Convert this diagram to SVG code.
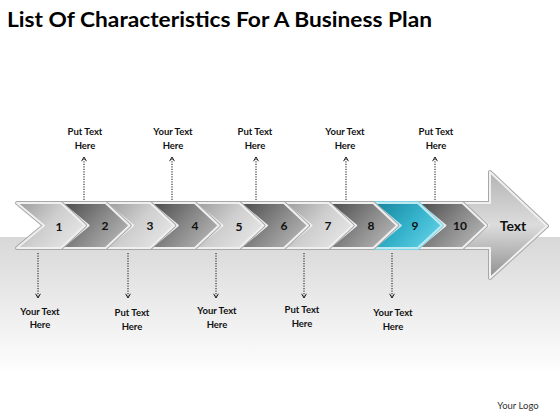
<svg xmlns="http://www.w3.org/2000/svg" width="560" height="420" viewBox="0 0 560 420">
<defs>
<linearGradient id="bg" x1="0" y1="0" x2="0" y2="1">
<stop offset="0" stop-color="#d8d8d8"/>
<stop offset="0.75" stop-color="#ffffff"/>
</linearGradient>
<linearGradient id="gLight" x1="0" y1="0" x2="1" y2="0.6">
<stop offset="0" stop-color="#9c9c9c"/>
<stop offset="0.55" stop-color="#cfcfcf"/>
<stop offset="1" stop-color="#e4e4e4"/>
</linearGradient>
<linearGradient id="gDark" x1="0" y1="0" x2="1" y2="0.6">
<stop offset="0" stop-color="#4a4a4a"/>
<stop offset="0.6" stop-color="#8a8a8a"/>
<stop offset="1" stop-color="#b0b0b0"/>
</linearGradient>
<linearGradient id="gTeal" x1="0" y1="0" x2="1" y2="0.6">
<stop offset="0" stop-color="#17839c"/>
<stop offset="0.6" stop-color="#36b3cc"/>
<stop offset="1" stop-color="#5ccde2"/>
</linearGradient>
<linearGradient id="gBig" x1="0" y1="0" x2="0" y2="1">
<stop offset="0" stop-color="#b4b4b4"/>
<stop offset="0.5" stop-color="#dcdcdc"/>
<stop offset="1" stop-color="#909090"/>
</linearGradient>
<marker id="ah" viewBox="0 0 10 10" refX="9" refY="5" markerWidth="6" markerHeight="6" markerUnits="userSpaceOnUse" orient="auto">
<path d="M2,1 L9,5 L2,9" fill="none" stroke="#111" stroke-width="1.6"/>
</marker>
<polygon id="chev" points="0,0 44,0 68,22.5 44,45 0,45 27,22.5"/>
</defs>
<style>
.title{font-family:"Lato","Liberation Sans",sans-serif;font-weight:bold;font-size:21px;fill:#000}
.lbl{font-family:"Lato","Liberation Sans",sans-serif;font-weight:bold;font-size:9.5px;fill:#111;text-anchor:middle}
.num{font-family:"Lato","Liberation Sans",sans-serif;font-weight:bold;font-size:12px;fill:#111;text-anchor:middle}
.big{font-family:"Lato","Liberation Sans",sans-serif;font-weight:bold;font-size:14px;fill:#111;text-anchor:middle}
.logo{font-family:"Lato","Liberation Sans",sans-serif;font-size:9.5px;fill:#333;text-anchor:middle}
.edge{stroke:#a8a8a8;stroke-width:4;stroke-linejoin:round}
.bevel{stroke:#f0f0f0;stroke-width:2;stroke-linejoin:round}
.conn{fill:none;stroke:#111;stroke-width:1;stroke-dasharray:1.2 1.3;marker-end:url(#ah)}
</style>
<rect x="0" y="0" width="560" height="420" fill="#ffffff"/>
<rect x="0" y="237" width="560" height="183" fill="url(#bg)"/>
<text class="title" x="7" y="27" textLength="425" lengthAdjust="spacingAndGlyphs">List Of Characteristics For A Business Plan</text>

<g id="node-text">
<polygon class="edge" points="462,203 490,203 490,172 547,226 490,278 490,248 462,248 489,225.5" fill="#b0b0b0"/>
<polygon class="bevel" points="462,203 490,203 490,172 547,226 490,278 490,248 462,248 489,225.5" fill="url(#gBig)"/>
<text class="big" x="513" y="231">Text</text>
</g>
<g id="node-10"><use href="#chev" x="418.4" y="203" class="edge" fill="#999"/><use href="#chev" x="418.4" y="203" class="bevel" fill="url(#gDark)"/><text class="num" x="460" y="230">10</text></g>
<g id="node-9"><use href="#chev" x="373.8" y="203" class="edge" fill="#2a9ab2" style="stroke:#7fd3e3"/><use href="#chev" x="373.8" y="203" class="bevel" fill="url(#gTeal)" style="stroke:#bfeaf2"/><text class="num" x="415" y="230">9</text></g>
<g id="node-8"><use href="#chev" x="329.2" y="203" class="edge" fill="#999"/><use href="#chev" x="329.2" y="203" class="bevel" fill="url(#gDark)"/><text class="num" x="371" y="230">8</text></g>
<g id="node-7"><use href="#chev" x="284.6" y="203" class="edge" fill="#bbb"/><use href="#chev" x="284.6" y="203" class="bevel" fill="url(#gLight)"/><text class="num" x="328" y="230">7</text></g>
<g id="node-6"><use href="#chev" x="240" y="203" class="edge" fill="#999"/><use href="#chev" x="240" y="203" class="bevel" fill="url(#gDark)"/><text class="num" x="284" y="230">6</text></g>
<g id="node-5"><use href="#chev" x="195.4" y="203" class="edge" fill="#bbb"/><use href="#chev" x="195.4" y="203" class="bevel" fill="url(#gLight)"/><text class="num" x="239" y="231">5</text></g>
<g id="node-4"><use href="#chev" x="150.8" y="203" class="edge" fill="#999"/><use href="#chev" x="150.8" y="203" class="bevel" fill="url(#gDark)"/><text class="num" x="195" y="230">4</text></g>
<g id="node-3"><use href="#chev" x="106.2" y="203" class="edge" fill="#bbb"/><use href="#chev" x="106.2" y="203" class="bevel" fill="url(#gLight)"/><text class="num" x="150" y="230">3</text></g>
<g id="node-2"><use href="#chev" x="61.6" y="203" class="edge" fill="#999"/><use href="#chev" x="61.6" y="203" class="bevel" fill="url(#gDark)"/><text class="num" x="105" y="230">2</text></g>
<g id="node-1"><use href="#chev" x="17" y="203" class="edge" fill="#bbb"/><use href="#chev" x="17" y="203" class="bevel" fill="url(#gLight)"/><text class="num" x="59" y="231">1</text></g>

<g id="connectors">
<line class="conn" x1="84" y1="200" x2="84" y2="157"/>
<line class="conn" x1="172" y1="200" x2="172" y2="157"/>
<line class="conn" x1="256" y1="200" x2="256" y2="157"/>
<line class="conn" x1="346" y1="200" x2="346" y2="157"/>
<line class="conn" x1="435" y1="200" x2="435" y2="157"/>
<line class="conn" x1="38" y1="253" x2="38" y2="298"/>
<line class="conn" x1="128" y1="253" x2="128" y2="298"/>
<line class="conn" x1="216" y1="253" x2="216" y2="298"/>
<line class="conn" x1="304" y1="253" x2="304" y2="298"/>
<line class="conn" x1="392" y1="253" x2="392" y2="298"/>
</g>

<g id="label-top-1"><text class="lbl" x="85" y="135">Put Text</text><text class="lbl" x="85" y="149">Here</text></g>
<g id="label-top-2"><text class="lbl" x="173" y="135">Your Text</text><text class="lbl" x="173" y="149">Here</text></g>
<g id="label-top-3"><text class="lbl" x="255" y="135">Put Text</text><text class="lbl" x="255" y="149">Here</text></g>
<g id="label-top-4"><text class="lbl" x="345" y="135">Your Text</text><text class="lbl" x="345" y="149">Here</text></g>
<g id="label-top-5"><text class="lbl" x="436" y="135">Put Text</text><text class="lbl" x="436" y="149">Here</text></g>
<g id="label-bot-1"><text class="lbl" x="40" y="315">Your Text</text><text class="lbl" x="40" y="328">Here</text></g>
<g id="label-bot-2"><text class="lbl" x="132" y="316">Put Text</text><text class="lbl" x="132" y="330">Here</text></g>
<g id="label-bot-3"><text class="lbl" x="217" y="314">Your Text</text><text class="lbl" x="217" y="328">Here</text></g>
<g id="label-bot-4"><text class="lbl" x="302" y="313">Put Text</text><text class="lbl" x="302" y="327">Here</text></g>
<g id="label-bot-5"><text class="lbl" x="393" y="316">Your Text</text><text class="lbl" x="393" y="330">Here</text></g>
<text class="logo" x="518" y="409">Your Logo</text>
</svg>
